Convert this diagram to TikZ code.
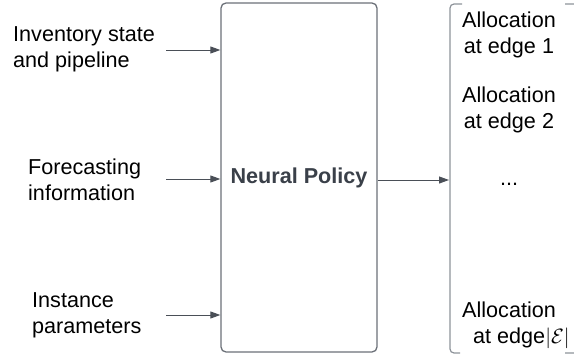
\documentclass[tikz,border=0pt]{standalone}
\usepackage{fontspec}
\setmainfont{Liberation Sans}
\usetikzlibrary{arrows.meta}
\definecolor{boxgray}{HTML}{6B7078}
\definecolor{bracketgray}{HTML}{8E939A}
\definecolor{arrowgray}{HTML}{4A4F57}
\definecolor{policytext}{HTML}{3A4049}
\tikzset{
  lbl/.style={inner sep=0pt, align=left, font=\fontsize{21.6}{25.5}\selectfont},
  arr/.style={draw=arrowgray, line width=1pt, -{Triangle[length=10pt,width=7pt]}},
}
\begin{document}
\begin{tikzpicture}[x=1pt,y=-1pt]
        \useasboundingbox (0,0) rectangle (574,356);
        \node[draw=boxgray, line width=1.3pt, rounded corners=5pt, minimum width=156pt, minimum height=349pt,
              font=\fontsize{21.6}{25.5}\selectfont\bfseries, text=policytext] (policy) at (299,177.5) {Neural Policy};

        \node[lbl, anchor=base west] (inv) at (13,67) {Inventory state\\and pipeline};
        \node[lbl, anchor=base west] (fc) at (28,200) {Forecasting\\information};
        \node[lbl, anchor=base west] (inst) at (32,333) {Instance\\parameters};

        \coordinate (in1) at (166,50);
        \coordinate (in2) at (166,179);
        \coordinate (in3) at (166,315);
        \draw[arr] (in1) -- (in1 -| policy.west);
        \draw[arr] (in2) -- (in2 -| policy.west);
        \draw[arr] (in3) -- (in3 -| policy.west);

        \draw[bracketgray, line width=1.2pt, rounded corners=4pt] (462,4) -- (450,4) -- (450,353) -- (460,353);
        \draw[bracketgray, line width=1.2pt, rounded corners=4pt] (565,4) -- (578,4) -- (578,353) -- (565,353);

        \coordinate (out) at (449,180);
        \draw[arr] (out -| policy.east) -- (out);

        \node[lbl, align=center, anchor=base] (e1) at (509,53) {Allocation\\at edge 1};
        \node[lbl, align=center, anchor=base] (e2) at (509,128) {Allocation\\at edge 2};
        \node[lbl, anchor=base] (dots) at (509,185) {...};
        \node[lbl, anchor=base west] (eN) at (462,343) {Allocation\\\hspace*{11pt}at edge$|\mathcal{E}|$};
\end{tikzpicture}
\end{document}
